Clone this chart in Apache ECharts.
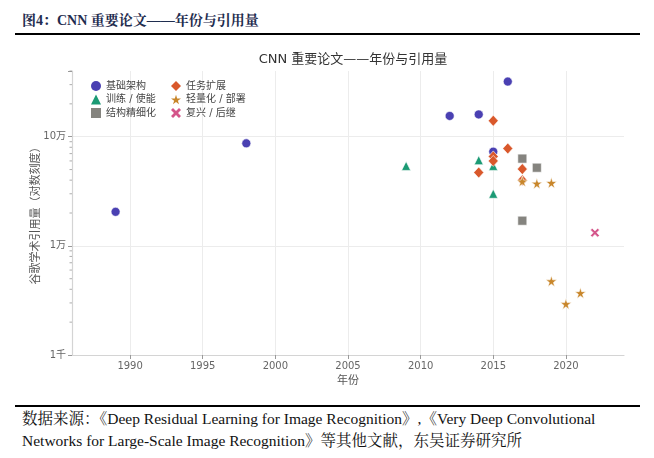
<!DOCTYPE html>
<html>
<head>
<meta charset="utf-8">
<script src="https://cdn.jsdelivr.net/npm/echarts@6/dist/echarts.min.js"></script>
<style>
  html, body { margin:0; padding:0; background:#fff; }
  #wrap { position:relative; width:654px; height:458px; overflow:hidden; }
  #head { position:absolute; left:22px; top:9px; font: bold 14px "Liberation Serif","Noto Serif CJK SC","Noto Sans CJK SC",serif; color:#1f2d4f; white-space:nowrap; }
  .rule { position:absolute; left:15px; width:625px; height:2px; background:#000; }
  #foot { position:absolute; left:22px; top:408px; font: 15.5px/22px "Liberation Serif","Noto Serif CJK SC","Noto Sans CJK SC",serif; color:#111; white-space:nowrap; }
  #chart { position:absolute; left:0; top:40px; width:654px; height:362px; }
</style>
</head>
<body>
<div id="wrap">
  <div id="head">图4：CNN 重要论文——年份与引用量</div>
  <div class="rule" style="top:33px"></div>
  <div id="chart"></div>
  <div class="rule" style="top:405px"></div>
  <div id="foot">数据来源：《Deep Residual Learning for Image Recognition》,《Very Deep Convolutional<br>Networks for Large-Scale Image Recognition》等其他文献，东吴证券研究所</div>
</div>
<script>
// ---- data (year, Google Scholar citations) ----
const foundation   = [[1989, 20500], [1998, 87000], [2012, 155000], [2014, 160000], [2015, 73000], [2016, 320000]];
const training     = [[2009, 54000], [2014, 61000], [2015, 54000], [2015, 30000]];
const refinement   = [[2017, 63000], [2018, 52000], [2017, 17000]];
const taskExt      = [[2014, 47000], [2015, 140000], [2015, 66000], [2015, 60000], [2016, 78000], [2017, 50500], [2017, 40000]];
const lightweight  = [[2017, 39000], [2018, 37300], [2019, 37800], [2019, 4750], [2020, 2940], [2021, 3700]];
const revival      = [[2022, 13200]];
const xTicks = [1990, 1995, 2000, 2005, 2010, 2015, 2020];
const yLabels = {1000: '1千', 10000: '1万', 100000: '10万'};
const yMinor = [2000,3000,4000,5000,6000,7000,8000,9000,20000,30000,40000,50000,60000,70000,80000,90000,200000,300000,400000];
const xMin = 1986, xMax = 2024, yMin = 1000, yMax = 400000;

const FONT = '"DejaVu Sans","Noto Sans CJK SC",sans-serif';
const STAR = 'path://M50,0 L61,35 L98,35 L68,57 L79,91 L50,70 L21,91 L32,57 L2,35 L39,35 Z';
const XMARK = 'path://M0,4 L4,0 L10,6 L16,0 L20,4 L14,10 L20,16 L16,20 L10,14 L4,20 L0,16 L6,10 Z';
const COLORS = {'基础架构': '#4a40b2', '训练 / 使能': '#1b9a74', '结构精细化': '#85847f',
                '任务扩展': '#d9582b', '轻量化 / 部署': '#c8862a', '复兴 / 后继': '#d4558a'};

const chart = echarts.init(document.getElementById('chart'));
const edge = {borderColor: 'rgba(255,255,255,0.85)', borderWidth: 0.7};
function sc(name, data, symbol, size) {
  return {name, type: 'scatter', data, symbol, symbolSize: size,
          itemStyle: Object.assign({color: COLORS[name], opacity: 1}, edge), emphasis: {disabled: true}};
}
function li(name, icon) {
  return {name, icon, itemStyle: {color: COLORS[name], borderWidth: 0, opacity: 1}};
}
const legendCommon = {orient: 'vertical', itemWidth: 10, itemHeight: 10, itemGap: 3.5,
  itemStyle: {borderWidth: 0},
  textStyle: {fontSize: 10, color: '#444', fontFamily: FONT}, top: 36, selectedMode: false};
chart.setOption({
  animation: false,
  title: {text: 'CNN 重要论文——年份与引用量', left: 348, textAlign: 'center', top: 8,
          textStyle: {fontSize: 13, fontWeight: 'normal', color: '#333', fontFamily: FONT}},
  grid: {left: 72, right: 30, top: 31, bottom: 47, outerBoundsMode: 'none'},
  legend: [
    Object.assign({}, legendCommon, {left: 86, data: [
      li('基础架构', 'circle'), li('训练 / 使能', 'triangle'), li('结构精细化', 'rect')]}),
    Object.assign({}, legendCommon, {left: 166, data: [
      li('任务扩展', 'diamond'), li('轻量化 / 部署', STAR), li('复兴 / 后继', XMARK)]})
  ],
  xAxis: {type: 'value', min: xMin, max: xMax, name: '年份', nameLocation: 'middle', nameGap: 21,
    nameMoveOverlap: false,
    nameTextStyle: {fontSize: 11, color: '#555', fontFamily: FONT},
    axisLine: {lineStyle: {color: '#d4d4d4', width: 1.2}},
    axisTick: {customValues: xTicks, length: 4, lineStyle: {color: '#999'}},
    axisLabel: {customValues: xTicks, fontSize: 10, color: '#666', margin: 6, fontFamily: FONT,
      formatter: v => String(Math.round(v))},
    splitLine: {show: true, lineStyle: {color: '#ececec', width: 1}}},
  yAxis: {type: 'log', logBase: 10, min: yMin, max: yMax, name: '谷歌学术引用量（对数刻度）',
    nameLocation: 'middle', nameGap: 30, nameRotate: 90, nameMoveOverlap: false,
    nameTextStyle: {fontSize: 11, color: '#555', fontFamily: FONT},
    axisLine: {show: true, lineStyle: {color: '#d4d4d4', width: 1.2}},
    axisTick: {show: true, length: 4, lineStyle: {color: '#999'}},
    axisLabel: {fontSize: 10, color: '#666', margin: 6, fontFamily: FONT,
      formatter: v => { const r = Math.round(v); return yLabels[r] && Math.abs(v - r) < 1 ? yLabels[r] : ''; }},
    splitLine: {show: true, showMaxLine: false, lineStyle: {color: '#ececec', width: 1}}},
  series: [
    {type: 'custom', silent: true, clip: false, z: 1,
     data: yMinor.map(v => [xMin, v]),
     renderItem: (params, api) => {
       const p = api.coord([api.value(0), api.value(1)]);
       return {type: 'line', shape: {x1: p[0] - 2.5, y1: p[1], x2: p[0], y2: p[1]},
               style: {stroke: '#999', lineWidth: 0.8}};
     }},
    sc('基础架构', foundation, 'circle', 9),
    sc('训练 / 使能', training, 'triangle', 9),
    sc('结构精细化', refinement, 'rect', 9),
    sc('任务扩展', taskExt, 'diamond', [10, 11]),
    sc('轻量化 / 部署', lightweight, STAR, 11),
    sc('复兴 / 后继', revival, XMARK, 9)
  ]
});
</script>
</body>
</html>
